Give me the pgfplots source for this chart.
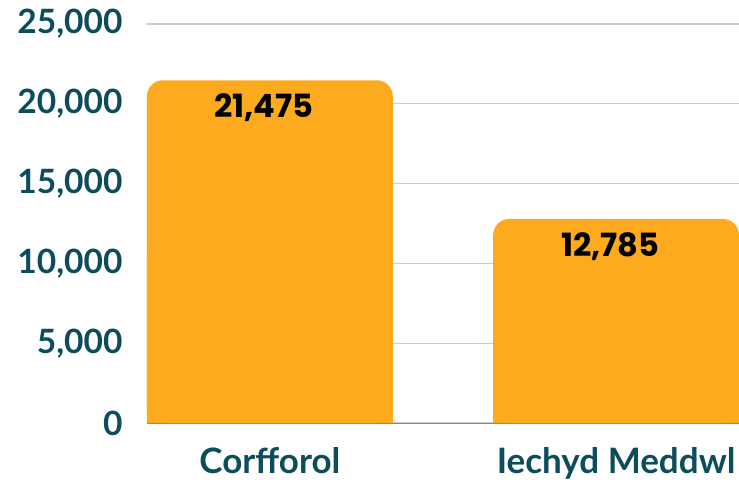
\documentclass[border=0pt]{standalone}
\usepackage{fontspec}
\setmainfont{Lato}
\newfontfamily\popfont{Poppins}
\usepackage{pgfplots}
\pgfplotsset{compat=1.18}
\definecolor{barc}{HTML}{FDAA1E}
\definecolor{labc}{HTML}{0D4D5B}
\definecolor{gridc}{HTML}{C2CFD6}
\definecolor{basec}{HTML}{6E8E98}

\begin{document}
\begin{tikzpicture}
  \begin{axis}[
    scale only axis,
    width=592pt, height=399pt,
    xmin=-0.355, xmax=1.355,
    ymin=0, ymax=25000,
    ytick={0,5000,10000,15000,20000,25000},
    xtick=data,
    xticklabels={Corfforol, Iechyd Meddwl},
    scaled y ticks=false,
    /pgf/number format/1000 sep={,},
    /pgf/number format/assume math mode=true,
    ticklabel style={font=\fontsize{35}{38}\selectfont\bfseries, text=labc},
    yticklabel style={font=\fontsize{33.5}{36}\selectfont\bfseries, xshift=-21pt},
    xticklabel style={yshift=-21pt},
    major tick length=0pt,
    ymajorgrids,
    grid style={draw=gridc, line width=1.3pt},
    axis x line*=bottom,
    axis y line*=left,
    y axis line style={draw=none},
    x axis line style={draw=basec, line width=1pt},
    clip=false,
  ]
  % bar bodies with rounded tops
  \addplot[ybar, bar width=0.71, fill=barc, draw=none, rounded corners=16pt,
    nodes near coords,
    every node near coord/.append style={font=\popfont\fontsize{32}{34}\selectfont\bfseries,
      text=black, anchor=north, yshift=-10pt, xshift=-6pt},
    nodes near coords style={/pgf/number format/1000 sep={,}, /pgf/number format/assume math mode=true},
  ] coordinates {(0,21475) (1,12785)};
  % square off the lower corners
  \addplot[ybar, bar width=0.71, fill=barc, draw=none, y filter/.expression={y/2}]
    coordinates {(0,21475) (1,12785)};
  \end{axis}
  \pgfresetboundingbox
  \path (-147pt,-60pt) rectangle (592pt,423pt);
\end{tikzpicture}
\end{document}
